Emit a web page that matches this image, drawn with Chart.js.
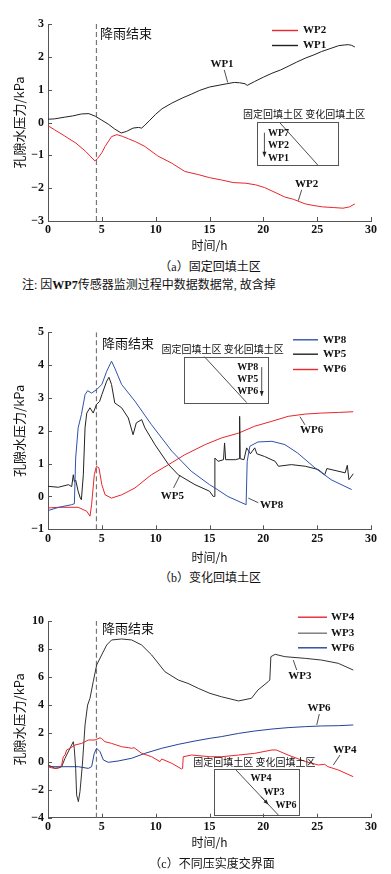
<!DOCTYPE html>
<html><head><meta charset="utf-8">
<script src="https://cdn.jsdelivr.net/npm/chart.js@4.4.0/dist/chart.umd.min.js"></script>
<style>
html,body{margin:0;padding:0;background:#fff}
body{width:391px;height:874px;position:relative;overflow:hidden}
canvas{position:absolute;left:0}
.t{position:absolute;white-space:nowrap;color:#111;font:12px "Liberation Serif","Noto Sans CJK SC",serif;line-height:1}
.c{transform:translate(-50%,-50%)}
.l{transform:translateY(-50%)}
</style></head>
<body>
<canvas id="ca" width="391" height="255" style="top:0px"></canvas>
<canvas id="cb" width="391" height="270" style="top:300px"></canvas>
<canvas id="cc" width="391" height="270" style="top:590px"></canvas>
<div class="t c" style="left:210px;top:267px">（a）固定回填土区</div>
<div class="t l" style="left:22px;top:285px">注: 因<b>WP7</b>传感器监测过程中数据数据常, 故含掉</div>
<div class="t c" style="left:210px;top:578px">（b）变化回填土区</div>
<div class="t c" style="left:212px;top:864px">（c）不同压实度交界面</div>
<script>
// ---------- shared ----------
const RAIN_END = 4.5;
const X_TICKS = [0, 5, 10, 15, 20, 25, 30];

// ---------- (a) 固定回填土区 ----------
const A_WP1_T = [0,0.6,1.5,2.3,3.1,3.8,4.4,5.0,5.6,6.2,6.8,7.3,7.9,8.4,8.7,9.0,9.4,10.0,10.6,11.5,12.5,13.3,14.1,15.0,15.8,16.6,17.3,17.8,18.3,18.5,19.2,20.0,20.8,21.6,22.3,23.1,23.9,24.7,25.4,26.2,27.0,27.5,27.9,28.2,28.5];
const A_WP1_V = [0.10,0.11,0.16,0.20,0.26,0.27,0.19,0.07,-0.05,-0.20,-0.32,-0.27,-0.17,-0.15,-0.17,-0.08,0.05,0.25,0.42,0.59,0.75,0.86,0.98,1.08,1.13,1.18,1.22,1.21,1.18,1.13,1.25,1.38,1.50,1.60,1.71,1.84,1.96,2.06,2.16,2.25,2.34,2.36,2.37,2.35,2.30];
const A_WP2_T = [0,0.6,1.5,2.6,3.5,4.35,4.6,5.0,5.3,5.9,6.4,6.9,7.5,8.1,9.0,10.2,11.5,12.7,14.0,15.0,16.1,17.2,18.4,19.3,20.1,20.9,22.0,22.8,23.9,24.7,25.5,26.5,27.4,28.0,28.5];
const A_WP2_V = [-0.10,-0.22,-0.40,-0.63,-0.88,-1.17,-1.10,-0.92,-0.73,-0.43,-0.37,-0.42,-0.50,-0.58,-0.73,-1.02,-1.24,-1.49,-1.59,-1.68,-1.75,-1.83,-1.85,-1.90,-1.98,-2.10,-2.27,-2.34,-2.48,-2.53,-2.57,-2.59,-2.61,-2.57,-2.48];
const A_Y_TICKS = [-3,-2,-1,0,1,2,3];

// ---------- (b) 变化回填土区 ----------
const B_WP8_T = [0,1.0,2.2,2.45,2.57,2.8,3.1,3.44,3.68,4.05,4.5,5.0,5.45,5.9,6.2,6.84,8.08,9.6,11.5,13.3,15.0,15.5,16.7,18.4,18.5,18.75,19.5,20.8,22.0,23.2,24.8,26.3,28.2];
const B_WP8_V = [-0.43,-0.33,-0.25,-0.22,1.17,2.09,2.49,3.10,3.22,3.15,3.25,3.41,3.81,4.12,3.91,3.41,2.90,2.19,1.38,0.77,0.36,0.26,0.0,-0.25,1.07,1.53,1.66,1.68,1.58,1.32,0.87,0.51,0.21];
const B_WP5_T = [0,0.96,1.9,2.2,2.35,2.45,2.57,2.8,3.0,3.1,3.28,3.44,3.6,3.9,4.2,4.5,4.8,5.0,5.45,5.66,5.9,6.2,6.84,7.46,7.9,8.2,8.7,9.0,9.93,11.2,12.1,13.65,15.0,15.35,15.45,15.5,15.8,16.3,16.4,16.5,17.4,17.75,17.8,17.85,18.2,18.45,18.8,19.2,19.4,20.1,21.1,21.4,22.6,23.9,25.1,25.7,25.9,27.6,27.8,27.95,28.35];
const B_WP5_V = [0.31,0.28,0.36,0.30,0.66,0.45,0.50,0.16,-0.05,-0.10,0.66,2.09,2.54,2.70,2.54,2.80,2.90,3.10,3.51,3.63,3.41,2.85,2.70,2.39,1.88,2.24,2.34,2.09,1.58,0.97,0.66,0.36,0.16,0.0,0.0,1.17,1.07,1.12,1.63,1.12,1.12,1.15,2.44,1.15,1.12,1.48,1.30,1.48,1.30,1.22,1.07,0.92,0.97,0.92,0.82,0.66,0.85,0.72,0.95,0.51,0.69];
const B_WP6_T = [0,0.96,2.8,3.6,3.9,4.05,4.3,4.5,4.73,5.0,5.3,5.9,6.84,8.08,9.6,11.2,12.7,14.6,16.1,17.7,19.2,20.8,22.3,23.9,25.4,27.0,28.35];
const B_WP6_V = [-0.35,-0.33,-0.33,-0.45,-0.60,-0.25,0.66,0.92,0.87,0.36,0.05,-0.05,0.05,0.26,0.66,0.97,1.27,1.58,1.78,1.93,2.14,2.29,2.44,2.51,2.54,2.56,2.58];
const B_Y_TICKS = [-1,0,1,2,3,4,5];

// ---------- (c) 不同压实度交界面 ----------
const C_WP4_T = [0,0.34,0.65,1.0,1.27,1.42,1.58,1.73,2.04,2.5,3.13,3.74,4.36,4.83,5.0,5.29,5.9,6.84,7.5,7.77,8.0,8.7,9.63,10.4,10.56,11.5,12.4,12.5,12.56,13.34,15.04,16.1,17.7,19.2,20.8,21.2,22.3,23.9,25.1,25.7,26.0,26.95,28.35];
const C_WP4_V = [-0.37,-0.45,-0.49,-0.45,-0.25,0.34,0.46,0.82,0.94,1.17,1.29,1.53,1.53,1.69,1.62,1.41,1.29,1.05,0.98,0.94,0.98,0.58,0.34,-0.01,0.18,-0.13,-0.53,-0.50,0.34,0.46,0.34,0.34,0.46,0.58,0.82,0.82,0.46,0.0,-0.25,-0.20,-0.37,-0.60,-1.08];
const C_WP3_T = [0,0.34,0.65,1.0,1.27,1.58,2.04,2.35,2.44,2.57,2.66,2.82,2.97,3.19,3.44,3.68,3.9,4.2,4.52,4.98,5.45,5.91,6.84,7.77,8.7,9.63,10.86,12.1,13.0,13.95,15.04,16.1,17.7,18.9,19.5,20.45,20.6,20.7,21.1,22.0,23.9,25.4,26.95,28.35];
const C_WP3_V = [-0.25,-0.37,-0.49,-0.45,-0.37,0.23,0.94,1.41,0.94,-0.49,-2.38,-2.86,-2.15,-0.25,2.60,4.02,4.50,5.68,6.87,7.58,8.29,8.65,8.72,8.65,8.29,7.58,6.39,5.80,5.56,5.21,4.85,4.61,4.31,4.50,5.09,5.68,5.80,7.46,7.63,7.46,7.34,7.22,6.99,6.51];
const C_WP6_T = [0,1.27,2.82,3.74,4.05,4.3,4.52,4.83,5.14,5.6,6.53,7.77,9.0,10.56,12.1,13.65,15.04,16.1,17.7,19.2,20.8,22.3,23.9,25.4,27.0,28.35];
const C_WP6_V = [-0.37,-0.37,-0.37,-0.49,-0.37,0.58,0.94,0.70,0.11,-0.06,0.04,0.23,0.58,0.94,1.22,1.46,1.65,1.77,2.00,2.17,2.31,2.41,2.48,2.53,2.55,2.60];
const C_Y_TICKS = [-4,-2,0,2,4,6,8,10];

// ---------- helpers ----------
const AXIS_COLOR = '#555';
const SERIF = '"Liberation Serif", "Times New Roman", serif';
const CJK = '"Noto Sans CJK SC", sans-serif';
const B11 = 'bold 11px ' + SERIF;
const B10 = 'bold 10px ' + SERIF;
const CJK13 = '13px ' + CJK;
const CJK10 = '10px ' + CJK;
const zip = (t, v) => t.map((x, i) => ({x: x, y: v[i]}));
const fmt = v => (v < 0 ? '\u2212' + Math.abs(v) : String(v));

const decoPlugin = {
  id: 'deco',
  afterDatasetsDraw(chart) {
    const o = chart.options.plugins.deco; if (!o) return;
    const {ctx} = chart; const x = chart.scales.x, y = chart.scales.y;
    const P = (t, v) => [x.getPixelForValue(t), y.getPixelForValue(v)];
    ctx.save();
    ctx.strokeStyle = AXIS_COLOR; ctx.lineWidth = 1;
    ctx.beginPath();
    x.ticks.forEach(tk => { const px = Math.round(x.getPixelForValue(tk.value)) + 0.5; ctx.moveTo(px, y.bottom); ctx.lineTo(px, y.bottom - 4); });
    y.ticks.forEach(tk => { const py = Math.round(y.getPixelForValue(tk.value)) + 0.5; ctx.moveTo(x.left, py); ctx.lineTo(x.left + 4, py); });
    ctx.stroke();
    ctx.strokeStyle = '#222'; ctx.lineWidth = 0.8;
    (o.lines || []).forEach(l => { const a = P(l[0], l[1]), b = P(l[2], l[3]); ctx.beginPath(); ctx.moveTo(a[0], a[1]); ctx.lineTo(b[0], b[1]); ctx.stroke(); });
    ctx.strokeStyle = '#555'; ctx.lineWidth = 1;
    (o.rects || []).forEach(r => { const a = P(r[0], r[1]), b = P(r[2], r[3]); ctx.strokeRect(Math.round(a[0]) + 0.5, Math.round(a[1]) + 0.5, Math.round(b[0] - a[0]), Math.round(b[1] - a[1])); });
    ctx.strokeStyle = '#222'; ctx.fillStyle = '#222'; ctx.lineWidth = 0.8;
    (o.arrows || []).forEach(r => {
      const a = P(r[0], r[1]), b = P(r[2], r[3]);
      ctx.beginPath(); ctx.moveTo(a[0], a[1]); ctx.lineTo(b[0], b[1]); ctx.stroke();
      const ang = Math.atan2(b[1] - a[1], b[0] - a[0]);
      ctx.beginPath(); ctx.moveTo(b[0], b[1]);
      ctx.lineTo(b[0] - 5 * Math.cos(ang) + 2 * Math.sin(ang), b[1] - 5 * Math.sin(ang) - 2 * Math.cos(ang));
      ctx.lineTo(b[0] - 5 * Math.cos(ang) - 2 * Math.sin(ang), b[1] - 5 * Math.sin(ang) + 2 * Math.cos(ang));
      ctx.closePath(); ctx.fill();
    });
    ctx.fillStyle = '#111'; ctx.textBaseline = 'middle';
    (o.texts || []).forEach(tx => { ctx.font = tx.f; ctx.textAlign = tx.a || 'center'; const p = P(tx.t, tx.v); ctx.fillText(tx.s, p[0], p[1]); });
    if (o.legend) {
      const L = o.legend;
      chart.data.datasets.filter(d => d.inLegend).forEach((d, i) => {
        const yy = L.ys[i] + 0.5;
        ctx.strokeStyle = d.legendColor || d.borderColor; ctx.lineWidth = 1.4;
        ctx.beginPath(); ctx.moveTo(L.x1, yy); ctx.lineTo(L.x2, yy); ctx.stroke();
        ctx.font = B11; ctx.textAlign = 'left'; ctx.fillStyle = '#111';
        ctx.fillText(d.label, L.tx, yy);
      });
    }
    ctx.restore();
  }
};

function makeChart(id, cfg) {
  const yMin = cfg.yTicks[0], yMax = cfg.yTicks[cfg.yTicks.length - 1];
  const datasets = cfg.series.map(s => ({
    label: s.label, data: zip(s.t, s.v), borderColor: s.color, legendColor: s.legendColor,
    borderWidth: 1, pointRadius: 0, tension: 0, fill: false, inLegend: true, order: s.order || 0
  }));
  datasets.push({label: '降雨结束', data: [{x: RAIN_END, y: yMin}, {x: RAIN_END, y: yMax}],
    borderColor: '#777', borderWidth: 1.2, borderDash: [5, 3], pointRadius: 0, inLegend: false, order: 5});
  return new Chart(document.getElementById(id), {
    type: 'line',
    data: {datasets: datasets},
    plugins: [decoPlugin],
    options: {
      responsive: false, animation: false, devicePixelRatio: 1,
      layout: {padding: {left: 0, right: 20, top: cfg.padTop, bottom: 0}},
      plugins: {legend: {display: false}, tooltip: {enabled: false}, deco: cfg.deco},
      scales: {
        x: {type: 'linear', min: 0, max: 30,
          afterBuildTicks: s => { s.ticks = X_TICKS.map(v => ({value: v})); },
          ticks: {font: {family: SERIF, size: 12, weight: 'bold'}, color: '#111', padding: 2, maxRotation: 0},
          grid: {display: false, drawTicks: false}, border: {display: true, color: AXIS_COLOR, width: 1},
          title: {display: true, text: '时间/h', font: {family: CJK, size: 12}, color: '#111', padding: {top: 0, bottom: cfg.xTitlePad}},
          afterFit: s => { s.height = cfg.xH; }},
        y: {type: 'linear', min: yMin, max: yMax,
          afterBuildTicks: s => { s.ticks = cfg.yTicks.map(v => ({value: v})); },
          ticks: {font: {family: SERIF, size: 12, weight: 'bold'}, color: '#111', padding: 4, callback: v => fmt(v)},
          grid: {display: false, drawTicks: false}, border: {display: true, color: AXIS_COLOR, width: 1},
          title: {display: true, text: '孔隙水压力/kPa', font: {family: CJK, size: 13}, color: '#111', padding: {top: 11, bottom: 0}},
          afterFit: s => { s.width = 48; }}
      }
    }
  });
}

// (a)
makeChart('ca', {
  padTop: 24, xH: 34, xTitlePad: 2, yTicks: A_Y_TICKS,
  series: [
    {label: 'WP2', t: A_WP2_T, v: A_WP2_V, color: '#e8262b'},
    {label: 'WP1', t: A_WP1_T, v: A_WP1_V, color: '#222222'}
  ],
  deco: {
    legend: {x1: 272, x2: 298, tx: 303, ys: [30, 45]},
    texts: [
      {t: 4.83, v: 2.73, s: '降雨结束', f: CJK13, a: 'left'},
      {t: 16.16, v: 1.79, s: 'WP1', f: B11},
      {t: 24.03, v: -1.89, s: 'WP2', f: B11},
      {t: 23.78, v: 0.256, s: '固定回填土区 变化回填土区', f: CJK10},
      {t: 20.43, v: -0.32, s: 'WP7', f: B10, a: 'left'},
      {t: 20.43, v: -0.71, s: 'WP2', f: B10, a: 'left'},
      {t: 20.43, v: -1.085, s: 'WP1', f: B10, a: 'left'}
    ],
    lines: [[16.37, 1.60, 16.69, 1.22], [23.56, -2.05, 23.25, -2.38], [21.48, 0.012, 25.1, -1.31]],
    rects: [[19.44, 0.012, 26.96, -1.31]],
    arrows: [[20.1, -0.31, 20.1, -1.04]]
  }
});

// (b)
makeChart('cb', {
  padTop: 32.3, xH: 40.7, xTitlePad: 5, yTicks: B_Y_TICKS,
  series: [
    {label: 'WP8', t: B_WP8_T, v: B_WP8_V, color: '#2f52ab'},
    {label: 'WP5', t: B_WP5_T, v: B_WP5_V, color: '#222222'},
    {label: 'WP6', t: B_WP6_T, v: B_WP6_V, color: '#e8262b'}
  ],
  deco: {
    legend: {x1: 293, x2: 318, tx: 323, ys: [39.3, 53.7, 69]},
    texts: [
      {t: 5.02, v: 4.68, s: '降雨结束', f: CJK13, a: 'left'},
      {t: 16.23, v: 4.48, s: '固定回填土区 变化回填土区', f: CJK10},
      {t: 19.53, v: 3.92, s: 'WP8', f: B10, a: 'right'},
      {t: 19.53, v: 3.55, s: 'WP5', f: B10, a: 'right'},
      {t: 19.53, v: 3.19, s: 'WP6', f: B10, a: 'right'},
      {t: 24.49, v: 2.03, s: 'WP6', f: B11},
      {t: 11.55, v: 0.02, s: 'WP5', f: B11},
      {t: 20.78, v: -0.26, s: 'WP8', f: B11}
    ],
    lines: [[14.52, 4.26, 18.45, 2.86], [23.4, 2.43, 23.87, 2.18], [11.66, 0.26, 12.26, 0.65], [19.53, -0.19, 18.6, -0.05]],
    rects: [[12.66, 4.26, 20.46, 2.86]],
    arrows: [[19.85, 3.94, 19.85, 3.06]]
  }
});

// (c)
makeChart('cc', {
  padTop: 31, xH: 42.3, xTitlePad: 10, yTicks: C_Y_TICKS,
  series: [
    {label: 'WP4', t: C_WP4_T, v: C_WP4_V, color: '#e8262b'},
    {label: 'WP3', t: C_WP3_T, v: C_WP3_V, color: '#333333', legendColor: '#777777'},
    {label: 'WP6', t: C_WP6_T, v: C_WP6_V, color: '#24439a'}
  ],
  deco: {
    legend: {x1: 298, x2: 327, tx: 331, ys: [26.7, 42.7, 57.3]},
    texts: [
      {t: 5.02, v: 9.5, s: '降雨结束', f: CJK13, a: 'left'},
      {t: 19.16, v: -0.085, s: '固定回填土区 变化回填土区', f: CJK10},
      {t: 19.78, v: -1.2, s: 'WP4', f: B10},
      {t: 20.99, v: -2.22, s: 'WP3', f: B10},
      {t: 22.1, v: -3.1, s: 'WP6', f: B10},
      {t: 23.4, v: 6.04, s: 'WP3', f: B11},
      {t: 25.17, v: 3.79, s: 'WP6', f: B11},
      {t: 27.58, v: 0.82, s: 'WP4', f: B11}
    ],
    lines: [[17.37, -0.53, 21.39, -3.81], [22.78, 7.22, 23.1, 6.51], [25.2, 3.38, 24.96, 2.6], [27.12, 0.46, 26.5, -0.25]],
    rects: [[15.45, -0.53, 23.34, -3.81]],
    arrows: [[19.78, -2.50, 20.47, -3.06]]
  }
});
</script>
</body></html>
